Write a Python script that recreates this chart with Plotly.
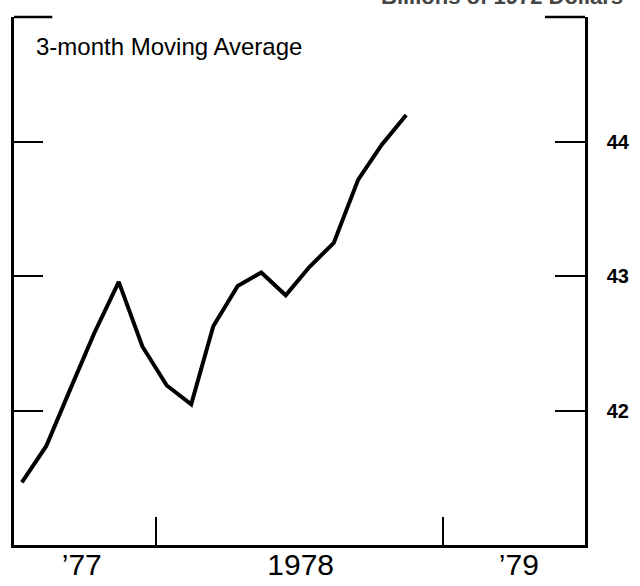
import plotly.graph_objects as go

months = ["1977-07-15", "1977-08-15", "1977-09-15", "1977-10-15", "1977-11-15",
          "1977-12-15", "1978-01-15", "1978-02-15", "1978-03-15", "1978-04-15",
          "1978-05-15", "1978-06-15", "1978-07-15", "1978-08-15", "1978-09-15",
          "1978-10-15", "1978-11-15"]
values = [41.47, 41.74, 42.17, 42.58, 42.96,
          42.48, 42.19, 42.05, 42.63, 42.93,
          43.03, 42.86, 43.07, 43.25, 43.72,
          43.98, 44.20]

y_ticks = [42, 43, 44]
year_bounds = ["1978-01-01", "1979-01-01"]
x_label_pos = ["1977-09-29", "1978-07-04", "1979-04-07"]
x_label_text = ["\u201977", "1978", "\u201979"]
x_range = ["1977-07-05", "1979-06-30"]
y_range = [41.004, 44.929]

FONT = "Liberation Sans, Arial, sans-serif"

fig = go.Figure()
fig.add_trace(go.Scatter(x=months, y=values, mode="lines",
                         line=dict(color="black", width=4),
                         hoverinfo="skip", showlegend=False))
fig.add_trace(go.Scatter(x=months, y=values, mode="lines", yaxis="y2",
                         line=dict(color="rgba(0,0,0,0)", width=0),
                         hoverinfo="skip", showlegend=False))

fig.update_layout(
    width=640, height=586,
    margin=dict(l=14, r=55, t=17, b=41, autoexpand=False),
    paper_bgcolor="white", plot_bgcolor="white",
    font=dict(family=FONT, color="black"),
    xaxis=dict(type="date", range=x_range, showgrid=False, zeroline=False,
               automargin=False,
               showline=True, linecolor="black", linewidth=2.5,
               tickmode="array", tickvals=x_label_pos, ticktext=x_label_text,
               ticks="", tickfont=dict(size=30, family=FONT, color="black"),
               ticklabelstandoff=-9,
               minor=dict(tickmode="array", tickvals=year_bounds, ticks="inside",
                          ticklen=28, tickwidth=2, tickcolor="black", showgrid=False)),
    yaxis=dict(range=y_range, showgrid=False, zeroline=False, automargin=False,
               showline=True, linecolor="black", linewidth=2.5,
               tickmode="array", tickvals=y_ticks, ticks="inside", ticklen=29,
               tickwidth=1.5, tickcolor="black", showticklabels=False),
    yaxis2=dict(range=y_range, overlaying="y", side="right", showgrid=False,
                automargin=False,
                zeroline=False, showline=True, linecolor="black", linewidth=2.5,
                tickmode="array", tickvals=y_ticks, ticks="inside", ticklen=30,
                tickwidth=1.5, tickcolor="black",
                tickfont=dict(size=20, family=FONT, color="black", weight="bold"),
                ticklabelstandoff=15),
)

# partial top frame segments
fig.add_shape(type="line", xref="paper", yref="paper", x0=0, x1=0.067, y0=1, y1=1,
              line=dict(color="black", width=2.5))
fig.add_shape(type="line", xref="paper", yref="paper", x0=0.93, x1=1, y0=1, y1=1,
              line=dict(color="black", width=2.5))

fig.add_annotation(text="3-month Moving Average", xref="paper", yref="paper",
                   x=0.035, y=0.945, xanchor="left", yanchor="middle",
                   showarrow=False, font=dict(size=24, family=FONT, color="black"))
fig.add_annotation(text="Billions of 1972 Dollars", xref="paper", yref="paper",
                   x=1.07, y=1.012, xanchor="right", yanchor="bottom",
                   showarrow=False,
                   font=dict(size=22, family=FONT, color="#444", weight="bold"))

fig.write_html("out.html",
               config={"displayModeBar": False},
               post_script="document.body.style.margin='0px';"
                           "document.body.style.overflow='hidden';")
